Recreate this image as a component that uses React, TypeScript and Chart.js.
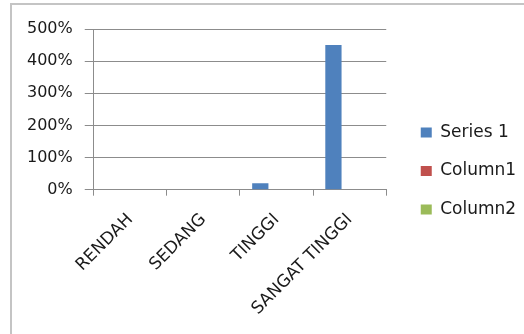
import React, { useEffect, useRef } from "react";
import { Chart, registerables } from "chart.js";

Chart.register(...registerables);

const categories = ["RENDAH", "SEDANG", "TINGGI", "SANGAT TINGGI"];
const series1Values = [0, 0, 20, 450];
const column1Values = [0, 0, 0, 0];
const column2Values = [0, 0, 0, 0];
const seriesNames = ["Series 1", "Column1", "Column2"];
const seriesColors = ["#4F81BD", "#C0504D", "#9BBB59"];
const yMin = 0;
const yMax = 500;
const yStep = 100;

const FONT = "'DejaVu Sans', sans-serif";
const LEGEND_SHIFT_X = 13;
const LEGEND_SHIFT_Y = -10;

const legendShiftPlugin = {
  id: "legendShift",
  beforeLayout(chart: any) {
    const lg = chart.legend;
    if (!lg || lg.__patched) return;
    lg.__patched = true;
    const origDraw = lg.draw;
    lg.draw = function (this: any, ...args: any[]) {
      const ctx = this.ctx;
      ctx.save();
      ctx.translate(LEGEND_SHIFT_X, LEGEND_SHIFT_Y);
      origDraw.apply(this, args);
      ctx.restore();
    };
  },
};

export default function App() {
  const canvasRef = useRef<HTMLCanvasElement | null>(null);

  useEffect(() => {
    if (!canvasRef.current) return;
    const chart = new Chart(canvasRef.current, {
      type: "bar",
      data: {
        labels: categories,
        datasets: [series1Values, column1Values, column2Values].map((d, i) => ({
          label: seriesNames[i],
          data: d,
          backgroundColor: seriesColors[i],
          borderWidth: 0,
          categoryPercentage: 0.667,
          barPercentage: 1,
        })),
      },
      options: {
        responsive: false,
        animation: false,
        layout: { padding: { left: 15, top: 29, right: 14, bottom: 1 } },
        plugins: {
          tooltip: { enabled: false },
          legend: {
            position: "right",
            align: "center",
            labels: {
              boxWidth: 11,
              boxHeight: 10,
              padding: 21.5,
              color: "#1a1a1a",
              font: { family: FONT, size: 17 },
            },
          },
        },
        scales: {
          x: {
            grid: {
              drawOnChartArea: false,
              drawTicks: true,
              tickLength: 6,
              color: "#8c8c8c",
              offset: true,
            },
            border: { display: true, color: "#8c8c8c", width: 1 },
            ticks: {
              minRotation: 45,
              maxRotation: 45,
              color: "#1a1a1a",
              font: { family: FONT, size: 17 },
              padding: 14,
            },
          },
          y: {
            min: yMin,
            max: yMax,
            grid: { color: "#8c8c8c", drawTicks: true, tickLength: 9 },
            border: { display: true, color: "#8c8c8c", width: 1 },
            ticks: {
              stepSize: yStep,
              padding: 12,
              color: "#1a1a1a",
              font: { family: FONT, size: 16 },
              callback: (v: any) => `${v}%`,
            },
          },
        },
      } as any,
      plugins: [legendShiftPlugin],
    });
    return () => chart.destroy();
  }, []);

  return (
    <div
      style={{
        position: "fixed",
        left: 0,
        top: 0,
        width: 524,
        height: 334,
        background: "#fff",
        overflow: "hidden",
      }}
    >
      <div
        style={{
          position: "absolute",
          left: 10,
          top: 3,
          width: 700,
          height: 500,
          border: "2px solid #c4c4c4",
        }}
      />
      <canvas
        ref={canvasRef}
        width={524}
        height={334}
        style={{ position: "absolute", left: 0, top: 0, width: 524, height: 334 }}
      />
    </div>
  );
}
